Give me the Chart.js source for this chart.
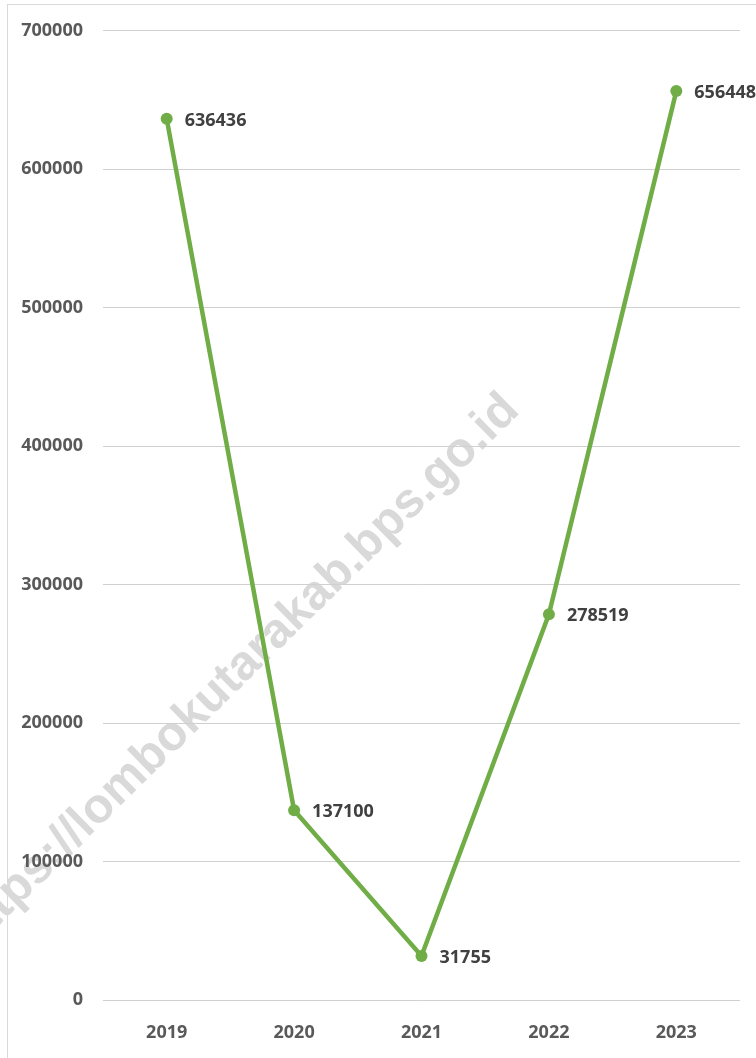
<!DOCTYPE html>
<html>
<head>
<meta charset="utf-8">
<script src="https://cdn.jsdelivr.net/npm/chart.js@4/dist/chart.umd.min.js"></script>
<style>
  html, body { margin: 0; padding: 0; background: #fff; }
  #wrap { width: 756px; height: 1058px; }
</style>
</head>
<body>
<div id="wrap"><canvas id="line1"></canvas></div>
<script>
var years = ['2019', '2020', '2021', '2022', '2023'];
var values = [636436, 137100, 31755, 278519, 656448];
var yTicks = [0, 100000, 200000, 300000, 400000, 500000, 600000, 700000];

var fontFam = '"Open Sans", "Noto Sans", sans-serif';

// light frame + watermark behind the chart
var backdrop = {
    id: 'backdrop',
    beforeDraw: function (chart) {
        var c = chart.ctx;
        c.save();
        c.fillStyle = '#fff';
        c.fillRect(0, 0, chart.width, chart.height);
        c.strokeStyle = '#d9d9d9';
        c.lineWidth = 1;
        c.strokeRect(7.5, 4.5, chart.width + 10, chart.height + 10);

        var wm = 'https://lombokutarakab.bps.go.id';
        c.font = 'bold 48px "Liberation Sans", Arial, sans-serif';
        var tail = c.measureText('tps://lombokutarakab.bps.go.id').width;
        var size = 48 * 725 / tail;
        c.font = 'bold ' + size + 'px "Liberation Sans", Arial, sans-serif';
        var head = c.measureText('ht').width;
        var ang = -44.5 * Math.PI / 180;
        c.translate(4, 920);
        c.rotate(ang);
        c.fillStyle = '#d9d9d9';
        c.textBaseline = 'alphabetic';
        c.fillText(wm, -head, 0);
        c.restore();
    }
};

// value labels to the right of each point
var valueLabels = {
    id: 'valueLabels',
    afterDatasetsDraw: function (chart) {
        var c = chart.ctx;
        var meta = chart.getDatasetMeta(0);
        c.save();
        c.font = 'bold 18px ' + fontFam;
        c.fillStyle = '#404040';
        c.textAlign = 'left';
        c.textBaseline = 'middle';
        meta.data.forEach(function (pt, i) {
            c.fillText(String(values[i]), pt.x + 18, pt.y + 2);
        });
        c.restore();
    }
};

var ctx1 = document.getElementById('line1').getContext('2d');
var myChart1 = new Chart(ctx1, {
    type: 'line',
    data: {
        labels: years,
        datasets: [{
            label: 'Nilai',
            data: values,
            borderColor: '#70AD47',
            backgroundColor: '#70AD47',
            borderWidth: 4.5,
            pointRadius: 6,
            pointHoverRadius: 6,
            pointBorderWidth: 0,
            tension: 0,
            clip: false
        }]
    },
    options: {
        responsive: true,
        maintainAspectRatio: false,
        animation: false,
        layout: {
            padding: { left: 7, right: 16, top: 30, bottom: 0 }
        },
        plugins: {
            legend: { display: false },
            tooltip: { enabled: false }
        },
        scales: {
            x: {
                offset: true,
                grid: { display: false, drawTicks: false },
                border: { display: false },
                ticks: {
                    color: '#595959',
                    font: { family: fontFam, size: 18, weight: 'bold' },
                    padding: 22
                },
                afterFit: function (scale) { scale.height = 58; }
            },
            y: {
                min: 0,
                max: 700000,
                afterBuildTicks: function (scale) {
                    scale.ticks = yTicks.map(function (v) { return { value: v }; });
                },
                grid: { color: '#d0d0d0', lineWidth: 1, drawTicks: false },
                border: { display: false },
                ticks: {
                    color: '#595959',
                    font: { family: fontFam, size: 18, weight: 'bold' },
                    padding: 20,
                    callback: function (v) { return String(v); }
                },
                afterFit: function (scale) { scale.width = 96; }
            }
        }
    },
    plugins: [backdrop, valueLabels]
});
</script>
</body>
</html>
